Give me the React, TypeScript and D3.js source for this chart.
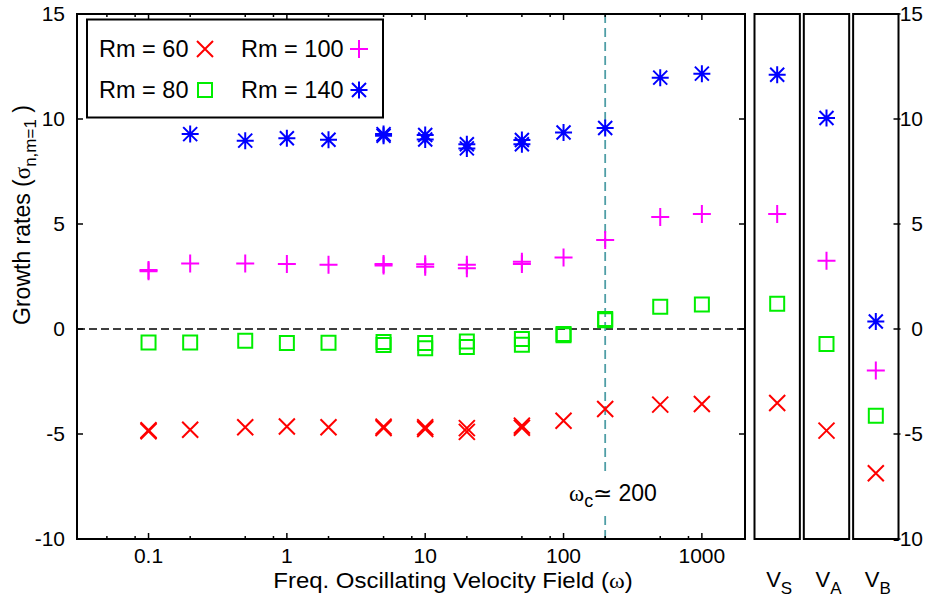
import React from 'react';
import * as d3 from 'd3';

// frequencies of the oscillating velocity field
const omegas = [0.1, 0.2, 0.5, 1, 2, 5, 10, 20, 50, 100, 200, 500, 1000];
const rm60 = [-4.87, -4.8, -4.68, -4.64, -4.68, -4.65, -4.68, -4.72, -4.6, -4.37, -3.81, -3.6, -3.57];
const rm80 = [-0.64, -0.64, -0.56, -0.67, -0.65, -0.62, -0.67, -0.6, -0.48, -0.24, 0.48, 1.06, 1.17];
const rm100 = [2.81, 3.12, 3.12, 3.1, 3.06, 3.1, 3.08, 3.06, 3.2, 3.41, 4.24, 5.33, 5.48];
const rm140 = [null, 9.28, 8.97, 9.08, 9.01, 9.28, 9.24, 8.8, 9.0, 9.36, 9.57, 11.97, 12.16];

// repeated runs (overlapping markers)
const repeatOmegas = [0.1, 5, 10, 20, 50, 100, 200];
const rm60Repeat = [-4.82, -4.72, -4.76, -4.9, -4.7, null, null];
const rm80Repeat = [null, -0.76, -0.92, -0.86, -0.75, -0.3, 0.42];
const rm100Repeat = [2.75, 3.02, 2.96, 2.89, 3.1, null, null];
const rm140Repeat = [null, 9.2, 9.02, 8.6, 8.8, null, null];

// steady velocity fields
const models = ['S', 'A', 'B'];
const rm60Models = [-3.52, -4.84, -6.87];
const rm80Models = [1.2, -0.71, -4.13];
const rm100Models = [5.48, 3.25, -1.98];
const rm140Models = [12.11, 10.05, 0.36];

const yTicks = [-10, -5, 0, 5, 10, 15];
const xMajor = [0.1, 1, 10, 100, 1000];
const xMinor = [0.05, 0.08, 0.2, 0.5, 0.8, 2, 5, 8, 20, 50, 80, 200, 500, 800];
const omegaC = 200;

const font = '"Liberation Sans", Arial, sans-serif';
const serif = '"Liberation Serif", "DejaVu Serif", serif';

const markerPath = (type, h = 8) => {
  if (type === 'cross') return `M${-h},${-h}L${h},${h}M${-h},${h}L${h},${-h}`;
  if (type === 'plus') return `M${-h - 1},0L${h + 1},0M0,${-h - 1}L0,${h + 1}`;
  if (type === 'square') return `M-7,-7H7V7H-7Z`;
  return `M${-h - 0.5},0L${h + 0.5},0M0,${-h - 0.5}L0,${h + 0.5}M${-h + 1},${-h + 1}L${h - 1},${h - 1}M${-h + 1},${h - 1}L${h - 1},${-h + 1}`;
};

const series = [
  { name: 'Rm = 60', color: '#ff0000', type: 'cross', values: rm60, repeat: rm60Repeat, models: rm60Models },
  { name: 'Rm = 80', color: '#00ee00', type: 'square', values: rm80, repeat: rm80Repeat, models: rm80Models },
  { name: 'Rm = 100', color: '#ff00ff', type: 'plus', values: rm100, repeat: rm100Repeat, models: rm100Models },
  { name: 'Rm = 140', color: '#0000ff', type: 'star', values: rm140, repeat: rm140Repeat, models: rm140Models },
];

const Marker = ({ x, y, s }) => (
  <path
    transform={`translate(${x},${y})`}
    d={markerPath(s.type)}
    fill="none"
    stroke={s.color}
    strokeWidth={2}
  />
);

export default function App() {
  const width = 928;
  const height = 599;
  const left = 77, right = 745, top = 14, bottom = 539;

  const xScale = d3.scaleLog().domain([0.0304, 2050]).range([left, right]);
  const yScale = d3.scaleLinear().domain([-10, 15]).range([bottom, top]);
  const panel = d3.scaleBand().domain(models).range([754.5, 898.5]).paddingInner(0.08);

  const legendCols = [
    { x: 99, sx: 205, items: [series[0], series[1]] },
    { x: 241, sx: 359, items: [series[2], series[3]] },
  ];
  const legendRows = [57, 98];

  return (
    <svg width={width} height={height} style={{ position: 'absolute', left: 0, top: 0, background: '#fff' }}
      fontFamily={font} fontSize={21}>
      <rect width={width} height={height} fill="#fff" />

      {/* zero line */}
      <line x1={left} x2={right} y1={yScale(0)} y2={yScale(0)} stroke="#000" strokeWidth={1.5} strokeDasharray="8,4" />

      {/* critical frequency */}
      <line x1={xScale(omegaC)} x2={xScale(omegaC)} y1={top} y2={yScale(-6.8)} stroke="#4f9ea6" strokeWidth={1.8} strokeDasharray="9,5" />
      <line x1={xScale(omegaC)} x2={xScale(omegaC)} y1={yScale(-8.9)} y2={bottom} stroke="#4f9ea6" strokeWidth={1.8} strokeDasharray="9,5" />
      <text x={569} y={501} fontSize={23}>
        <tspan fontFamily={serif}>ω</tspan>
        <tspan fontSize={18} dy={6}>c</tspan>
        <tspan dy={-6}>≃ 200</tspan>
      </text>

      {/* main frame and ticks */}
      <rect x={left} y={top} width={right - left} height={bottom - top} fill="none" stroke="#000" strokeWidth={2} />
      {yTicks.map(t => (
        <g key={'y' + t}>
          <line x1={left} x2={left + 6} y1={yScale(t)} y2={yScale(t)} stroke="#000" strokeWidth={1.5} />
          <line x1={right - 6} x2={right} y1={yScale(t)} y2={yScale(t)} stroke="#000" strokeWidth={1.5} />
          <text x={65} y={yScale(t)} dy="0.35em" textAnchor="end">{t}</text>
        </g>
      ))}
      {xMajor.map(t => (
        <g key={'x' + t}>
          <line x1={xScale(t)} x2={xScale(t)} y1={bottom} y2={bottom - 6} stroke="#000" strokeWidth={1.5} />
          <line x1={xScale(t)} x2={xScale(t)} y1={top} y2={top + 6} stroke="#000" strokeWidth={1.5} />
          <text x={xScale(t)} y={563} textAnchor="middle">{t}</text>
        </g>
      ))}
      {xMinor.map(t => (
        <g key={'m' + t}>
          <line x1={xScale(t)} x2={xScale(t)} y1={bottom} y2={bottom - 3} stroke="#000" strokeWidth={1.5} />
          <line x1={xScale(t)} x2={xScale(t)} y1={top} y2={top + 3} stroke="#000" strokeWidth={1.5} />
        </g>
      ))}

      {/* main markers */}
      {series.map(s => (
        <g key={s.name}>
          {omegas.map((w, i) => s.values[i] == null ? null : (
            <Marker key={i} x={xScale(w)} y={yScale(s.values[i])} s={s} />
          ))}
          {repeatOmegas.map((w, i) => s.repeat[i] == null ? null : (
            <Marker key={'r' + i} x={xScale(w)} y={yScale(s.repeat[i])} s={s} />
          ))}
        </g>
      ))}

      {/* legend */}
      <rect x={87} y={19.5} width={296} height={98} fill="#fff" stroke="#000" strokeWidth={2} />
      {legendCols.map(c => c.items.map((s, ri) => (
        <g key={s.name}>
          <text x={c.x} y={legendRows[ri]} fontSize={23.5}>{s.name}</text>
          <Marker x={c.sx} y={legendRows[ri] - 8} s={s} />
        </g>
      )))}

      {/* model panels */}
      {models.map((m, mi) => (
        <g key={m}>
          <rect x={panel(m)} y={top} width={panel.bandwidth()} height={bottom - top} fill="none" stroke="#000" strokeWidth={2} />
          {series.map(s => (
            <Marker key={s.name} x={panel(m) + panel.bandwidth() / 2} y={yScale(s.models[mi])} s={s} />
          ))}
          <text x={panel(m) + panel.bandwidth() / 2 + 2} y={587} textAnchor="middle" fontSize={22}>
            V<tspan fontSize={17} dy={7}>{m}</tspan>
          </text>
        </g>
      ))}
      {yTicks.map(t => (
        <g key={'r' + t}>
          <line x1={panel('B') + panel.bandwidth() - 5} x2={panel('B') + panel.bandwidth() + 2} y1={yScale(t)} y2={yScale(t)} stroke="#000" strokeWidth={1.5} />
          <text x={923} y={yScale(t)} dy="0.35em" textAnchor="end">{t}</text>
        </g>
      ))}

      {/* axis titles */}
      <text transform="translate(30,215) rotate(-90)" textAnchor="middle" fontSize={23}>
        Growth rates (<tspan fontFamily={serif}>σ</tspan>
        <tspan fontSize={17} dy={6}>n,m=1</tspan>
        <tspan dy={-6}> )</tspan>
      </text>
      <text transform="translate(453,588) scale(1.09,1)" textAnchor="middle" fontSize={22}>
        Freq. Oscillating Velocity Field (<tspan fontFamily={serif}>ω</tspan>)
      </text>
    </svg>
  );
}
